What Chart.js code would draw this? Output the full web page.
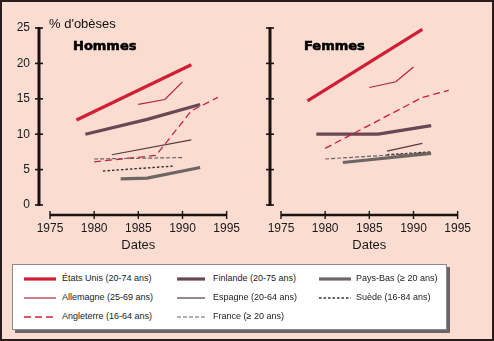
<!DOCTYPE html>
<html><head><meta charset="utf-8">
<script src="https://cdn.jsdelivr.net/npm/chart.js@4/dist/chart.umd.min.js"></script>
<style>
html,body{margin:0;padding:0;background:#fff;}
#page{position:relative;width:494px;height:341px;background:#fadcd1;overflow:hidden;font-family:"Liberation Sans",Arial,sans-serif;}
#frame{position:absolute;left:0;top:0;width:494px;height:341px;box-sizing:border-box;border:2px solid #2a1c1c;pointer-events:none;}
canvas{position:absolute;}
.lbl{position:absolute;white-space:nowrap;color:#111;}
.ytitle{font-size:13px;line-height:15px;}
.panel{font-family:"DejaVu Sans",sans-serif;font-weight:bold;font-size:13px;line-height:16px;color:#000;-webkit-text-stroke:0.6px #000;}
#legend{position:absolute;left:12px;top:264px;width:433px;height:64px;background:#fff;border:1px solid #8a8a8a;box-shadow:3px 3px 0 #6e6666;}
.li{position:absolute;font-size:9px;line-height:11px;color:#222;white-space:nowrap;}
.ls{position:absolute;}
</style></head>
<body>
<div id="page">
  <canvas id="cH" width="256" height="258" style="left:0;top:0;"></canvas>
  <canvas id="cF" width="256" height="258" style="left:231px;top:0;"></canvas>
  <div class="lbl ytitle" style="left:49px;top:16px;">% d'obèses</div>
  <div class="lbl panel" style="left:73px;top:38px;">Hommes</div>
  <div class="lbl panel" style="left:304px;top:38px;">Femmes</div>
  <div id="legend"></div>
  <div id="frame"></div>
</div>
<script>
// ---- Axes ----
const yearTicks = [1975, 1980, 1985, 1990, 1995];
const valueTicks = [0, 5, 10, 15, 20, 25];
const xTitle = 'Dates';

// ---- Series names (legend order) ----
const seriesNames = ['États Unis (20-74 ans)', 'Finlande (20-75 ans)', 'Pays-Bas (≥ 20 ans)',
                     'Allemagne (25-69 ans)', 'Espagne (20-64 ans)', 'Suède (16-84 ans)',
                     'Angleterre (16-64 ans)', 'France (≥ 20 ans)'];

// ---- Hommes : [année, % d'obèses] ----
const usaH        = [[1978, 12.0], [1991, 19.8]];
const finlandeH   = [[1979, 10.0], [1986, 12.1], [1992, 14.2]];
const paysBasH    = [[1983, 3.7], [1986, 3.8], [1992, 5.3]];
const allemagneH  = [[1985, 14.2], [1988, 14.9], [1990, 17.4]];
const espagneH    = [[1982, 7.1], [1991, 9.2]];
const suedeH      = [[1981, 4.8], [1989, 5.5]];
const angleterreH = [[1980, 6.1], [1987, 7.0], [1991, 13.3], [1994, 15.2]];
const franceH     = [[1980, 6.5], [1990, 6.7]];

// ---- Femmes : [année, % d'obèses] ----
const usaF        = [[1978, 14.7], [1991, 24.8]];
const finlandeF   = [[1979, 10.0], [1986, 10.0], [1992, 11.2]];
const paysBasF    = [[1982, 6.0], [1992, 7.3]];
const allemagneF  = [[1985, 16.6], [1988, 17.4], [1990, 19.5]];
const espagneF    = [[1987, 7.6], [1991, 8.7]];
const suedeF      = [[1987, 7.1], [1992, 7.5]];
const angleterreF = [[1980, 8.0], [1991, 15.2], [1994, 16.2]];
const franceF     = [[1980, 6.5], [1992, 7.4]];

// ---- Styles (by legend order) ----
const styles = [
  {color:'#d01f35', width:3.2, dash:[]},
  {color:'#6b4654', width:3.2, dash:[]},
  {color:'#6c6665', width:3.2, dash:[]},
  {color:'#b5233b', width:1.2, dash:[]},
  {color:'#553843', width:1.2, dash:[]},
  {color:'#3a3032', width:1.4, dash:[2.5,2]},
  {color:'#cc2038', width:1.3, dash:[7,4]},
  {color:'#6e5f63', width:1.2, dash:[4,2]}
];

function toPts(arr){ return arr.map(p => ({x:p[0], y:p[1]})); }

function makeDatasets(list){
  const order = [7,6,5,4,3,2,1,0];
  return order.map(i => ({
    label: seriesNames[i],
    data: toPts(list[i]),
    borderColor: styles[i].color,
    borderWidth: styles[i].width,
    borderDash: styles[i].dash,
    borderCapStyle: 'butt',
    pointRadius: 0,
    tension: 0,
    fill: false,
    clip: false
  }));
}

const axesPlugin = {
  id: 'detachedAxes',
  afterDraw(chart){
    const {ctx, chartArea, scales:{x, y}} = chart;
    ctx.save();
    ctx.strokeStyle = '#1b1212';
    const ax = chartArea.left - 11;
    const y0 = y.getPixelForValue(valueTicks[0]);
    const y1 = y.getPixelForValue(valueTicks[valueTicks.length-1]);
    ctx.lineWidth = 3;
    ctx.beginPath(); ctx.moveTo(ax, y0 + 1); ctx.lineTo(ax, y1 - 1); ctx.stroke();
    ctx.lineWidth = 1.6;
    valueTicks.forEach(v => {
      const py = y.getPixelForValue(v);
      ctx.beginPath(); ctx.moveTo(ax - 4, py); ctx.lineTo(ax + 4, py); ctx.stroke();
    });
    const ay = chartArea.bottom + 10;
    const x0 = x.getPixelForValue(yearTicks[0]);
    const x1 = x.getPixelForValue(yearTicks[yearTicks.length-1]);
    ctx.lineWidth = 2.4;
    ctx.beginPath(); ctx.moveTo(x0, ay); ctx.lineTo(x1, ay); ctx.stroke();
    ctx.lineWidth = 1.4;
    yearTicks.forEach(v => {
      const px = x.getPixelForValue(v);
      ctx.beginPath(); ctx.moveTo(px, ay - 4); ctx.lineTo(px, ay + 4); ctx.stroke();
    });
    ctx.restore();
  }
};

function makeChart(id, list, showYLabels){
  return new Chart(document.getElementById(id), {
    type: 'line',
    data: { datasets: makeDatasets(list) },
    options: {
      responsive: false,
      devicePixelRatio: 1,
      animation: false,
      layout: { padding: { left: 0, right: 20, top: 28, bottom: 0 } },
      plugins: { legend: { display: false }, tooltip: { enabled: false } },
      scales: {
        x: {
          type: 'linear',
          min: yearTicks[0], max: yearTicks[yearTicks.length-1],
          afterBuildTicks: s => { s.ticks = yearTicks.map(v => ({value: v})); },
          afterFit: s => { s.height = 53; },
          grid: { display: false, drawTicks: false },
          border: { display: false },
          ticks: { padding: 16, color: '#1a1a1a', font: { family: 'Liberation Sans', size: 12 }, callback: v => String(v), maxRotation: 0 },
          title: { display: true, text: xTitle, color: '#1a1a1a', font: { family: 'Liberation Sans', size: 13 }, padding: { top: 0, bottom: 5 } }
        },
        y: {
          type: 'linear',
          min: valueTicks[0], max: valueTicks[valueTicks.length-1],
          afterBuildTicks: s => { s.ticks = valueTicks.map(v => ({value: v})); },
          afterFit: s => { s.width = 50; },
          grid: { display: false, drawTicks: false },
          border: { display: false },
          ticks: { display: showYLabels, padding: 20, color: '#1a1a1a', font: { family: 'Liberation Sans', size: 12 }, callback: v => String(v) }
        }
      }
    },
    plugins: [axesPlugin]
  });
}

makeChart('cH', [usaH, finlandeH, paysBasH, allemagneH, espagneH, suedeH, angleterreH, franceH], true);
makeChart('cF', [usaF, finlandeF, paysBasF, allemagneF, espagneF, suedeF, angleterreF, franceF], false);

// ---- Legend (HTML) ----
const legend = document.getElementById('legend');
const colSample = [[11, 32], [164, 28], [306, 32]];
const colText = [49, 200, 343];
const rowY = [13.5, 32.5, 51.5];
seriesNames.forEach((name, i) => {
  const col = i % 3, row = Math.floor(i / 3);
  const st = styles[i];
  const [sx, sw] = colSample[col];
  const svg = document.createElementNS('http://www.w3.org/2000/svg', 'svg');
  svg.setAttribute('class', 'ls');
  svg.setAttribute('width', sw); svg.setAttribute('height', 6);
  svg.style.left = sx + 'px'; svg.style.top = (rowY[row] - 3) + 'px';
  const ln = document.createElementNS('http://www.w3.org/2000/svg', 'line');
  ln.setAttribute('x1', 0); ln.setAttribute('x2', sw);
  ln.setAttribute('y1', 3); ln.setAttribute('y2', 3);
  ln.setAttribute('stroke', st.color);
  ln.setAttribute('stroke-width', st.width);
  if (st.dash.length) ln.setAttribute('stroke-dasharray', st.dash.join(','));
  svg.appendChild(ln);
  legend.appendChild(svg);
  const t = document.createElement('div');
  t.className = 'li';
  t.textContent = name;
  t.style.left = colText[col] + 'px';
  t.style.top = (rowY[row] - 6) + 'px';
  legend.appendChild(t);
});
</script>
</body></html>
